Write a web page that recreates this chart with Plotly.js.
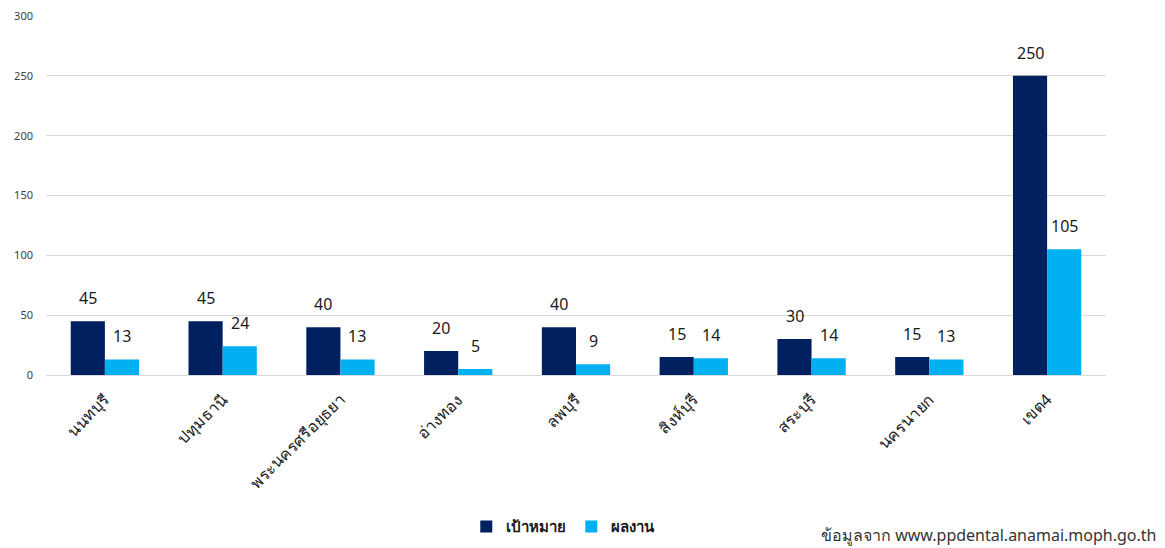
<!DOCTYPE html>
<html>
<head>
<meta charset="utf-8">
<script src="https://cdn.plot.ly/plotly-3.0.1.min.js"></script>
<style>html,body{margin:0;padding:0;background:#fff}#chart{width:1165px;height:548px}</style>
</head>
<body>
<div id="chart"></div>
<script>
const categories = ["นนทบุรี","ปทุมธานี","พระนครศรีอยุธยา","อ่างทอง","ลพบุรี","สิงห์บุรี","สระบุรี","นครนายก","เขต4"];
const targetName = "เป้าหมาย";
const resultName = "ผลงาน";
const targetValues = [45,45,40,20,40,15,30,15,250];
const resultValues = [13,24,13,5,9,14,14,13,105];
const yTicks = [0,50,100,150,200,250,300];
const sourceText = "ข้อมูลจาก www.ppdental.anamai.moph.go.th";

const FONT = "Tahoma, 'Noto Sans', 'DejaVu Sans', sans-serif";
const traces = [
  {type:"bar", name:targetName, x:categories, y:targetValues, marker:{color:"#002060"}, hoverinfo:"y"},
  {type:"bar", name:resultName, x:categories, y:resultValues, marker:{color:"#00B0F0"}, hoverinfo:"y"}
];
const annotations = [];
categories.forEach((c,i)=>{
  annotations.push({x:c, y:targetValues[i], xref:"x", yref:"y", text:String(targetValues[i]), showarrow:false, xshift:-17, yshift:23, font:{family:FONT,size:16,color:"#1a1a1a"}});
  annotations.push({x:c, y:resultValues[i], xref:"x", yref:"y", text:String(resultValues[i]), showarrow:false, xshift:17, yshift:23, font:{family:FONT,size:16,color:"#1a1a1a"}});
});
annotations.push({xref:"paper", yref:"paper", x:1.049, y:-0.446, xanchor:"right", yanchor:"middle", text:sourceText, showarrow:false, font:{family:FONT,size:16,color:"#333333"}});

const layout = {
  width:1165, height:548,
  margin:{l:46, r:59, t:16, b:173, autoexpand:false},
  paper_bgcolor:"#ffffff", plot_bgcolor:"#ffffff",
  barmode:"group", bargap:0.42, bargroupgap:0,
  font:{family:FONT, color:"#404040"},
  showlegend:true,
  legend:{orientation:"h", x:0.488, xanchor:"center", y:-0.423, yanchor:"middle", font:{family:FONT,size:15,color:"#1a1a1a", weight:"bold"}, traceorder:"normal"},
  xaxis:{tickangle:-45, automargin:false, tickfont:{family:FONT,size:16,color:"#1a1a1a"}, showgrid:false, showline:true, linecolor:"#D9D9D9", ticks:"", ticklabelstandoff:8, fixedrange:true},
  yaxis:{range:[0,300], automargin:false, tickvals:yTicks, ticktext:yTicks.map(String), tickfont:{family:FONT,size:11,color:"#404040"}, showgrid:true, gridcolor:"#D9D9D9", zeroline:false, showline:false, ticks:"", ticklabelstandoff:12, fixedrange:true},
  annotations:annotations
};
Plotly.newPlot("chart", traces, layout, {displayModeBar:false, staticPlot:true});
</script>
</body>
</html>
